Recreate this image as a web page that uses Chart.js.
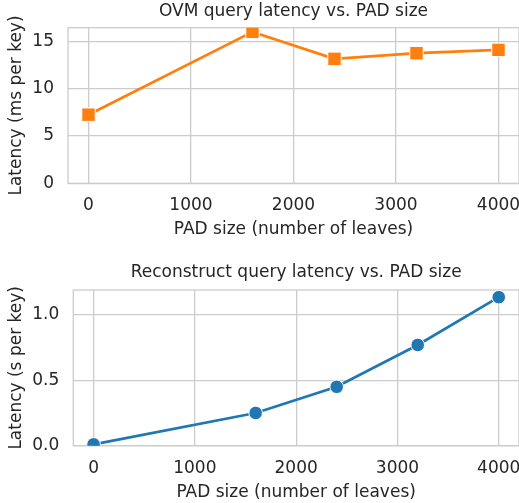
<!DOCTYPE html>
<html>
<head>
<meta charset="utf-8">
<script src="https://cdn.jsdelivr.net/npm/chart.js@4.4.1/dist/chart.umd.min.js"></script>
<style>
  body { margin: 0; background: #fff; }
  .box { position: absolute; left: 0; width: 519px; }
  #top { top: 0; height: 250px; }
  #bottom { top: 250px; height: 253px; }
</style>
</head>
<body>
<div class="box" id="top"><canvas id="ovmChart"></canvas></div>
<div class="box" id="bottom"><canvas id="reconChart"></canvas></div>
<script>
// PAD size (number of leaves)
const padSizes = [0, 1600, 2400, 3200, 4000];
// OVM query latency (ms per key)
const ovmLatency = [7.25, 16.0, 13.15, 13.75, 14.1];
// Reconstruct query latency (s per key)
const reconLatency = [0.01, 0.25, 0.45, 0.77, 1.135];

// tick labels
const xTicks = [0, 1000, 2000, 3000, 4000];
const ovmTicks = [0, 5, 10, 15];
const reconTicks = [0, 0.5, 1.0];

const textColor = "#262626";
const gridColor = "#cccccc";
const font = "DejaVu Sans";

// light grey box round the plot area (all four spines)
const frame = {
  id: "frame",
  beforeDatasetsDraw(chart) {
    const a = chart.chartArea;
    const c = chart.ctx;
    c.save();
    c.strokeStyle = gridColor;
    c.lineWidth = 1.3;
    c.strokeRect(a.left, a.top, a.right - a.left, a.bottom - a.top);
    c.restore();
  },
};

function makeChart(id, opt) {
  return new Chart(document.getElementById(id), {
    type: "line",
    data: {
      datasets: [
        {
          data: padSizes.map((x, i) => ({ x: x, y: opt.values[i] })),
          borderColor: opt.color,
          backgroundColor: opt.color,
          borderWidth: 2.7,
          pointStyle: opt.pointStyle,
          pointRadius: opt.pointRadius,
          pointBorderColor: "#ffffff",
          pointBorderWidth: 1,
          tension: 0,
        },
      ],
    },
    options: {
      responsive: true,
      maintainAspectRatio: false,
      animation: false,
      layout: { padding: 0, autoPadding: false },
      plugins: {
        legend: { display: false },
        tooltip: { enabled: false },
        title: {
          display: true,
          fullSize: false,
          text: opt.title,
          color: textColor,
          font: { family: font, size: 17, weight: "normal" },
          padding: opt.titlePad,
        },
      },
      scales: {
        x: {
          type: "linear",
          min: -200,
          max: 4200,
          afterBuildTicks: (s) => (s.ticks = xTicks.map((v) => ({ value: v }))),
          afterFit: (s) => {
            s.height = opt.xHeight;
            s.paddingLeft = 0;
            s.paddingRight = 0;
          },
          ticks: {
            color: textColor,
            font: { family: font, size: 17 },
            padding: 12.5,
            maxRotation: 0,
            callback: (v) => String(v),
          },
          grid: { color: gridColor, lineWidth: 1.3, drawTicks: false },
          border: { display: false },
          title: {
            display: true,
            text: "PAD size (number of leaves)",
            color: textColor,
            font: { family: font, size: 17 },
            padding: { top: 0, bottom: opt.xTitlePad },
          },
        },
        y: {
          type: "linear",
          min: 0,
          max: opt.yMax,
          afterBuildTicks: (s) => (s.ticks = opt.yTicks.map((v) => ({ value: v }))),
          afterFit: (s) => (s.width = opt.yWidth),
          ticks: {
            color: textColor,
            font: { family: font, size: 17 },
            padding: 14,
            callback: opt.fmt,
          },
          grid: { color: gridColor, lineWidth: 1.3, drawTicks: false },
          border: { display: false },
          title: {
            display: true,
            text: opt.yLabel,
            color: textColor,
            font: { family: font, size: 17 },
            padding: { top: 6.3, bottom: 0 },
          },
        },
      },
    },
    plugins: [frame],
  });
}

makeChart("ovmChart", {
  title: "OVM query latency vs. PAD size",
  titlePad: { top: 1, bottom: 6.3 },
  yLabel: "Latency (ms per key)",
  values: ovmLatency,
  color: "#ff7f0e",
  pointStyle: "rect",
  pointRadius: 9.5,
  yMax: 16.44,
  yTicks: ovmTicks,
  fmt: (v) => String(v),
  yWidth: 68,
  xHeight: 66.7,
  xTitlePad: 10,
});

makeChart("reconChart", {
  title: "Reconstruct query latency vs. PAD size",
  titlePad: { top: 12.5, bottom: 7.1 },
  yLabel: "Latency (s per key)",
  values: reconLatency,
  color: "#1f77b4",
  pointStyle: "circle",
  pointRadius: 6.8,
  yMax: 1.19,
  yTicks: reconTicks,
  fmt: (v) => v.toFixed(1),
  yWidth: 73.3,
  xHeight: 57.3,
  xTitlePad: 0.5,
});
</script>
</body>
</html>
